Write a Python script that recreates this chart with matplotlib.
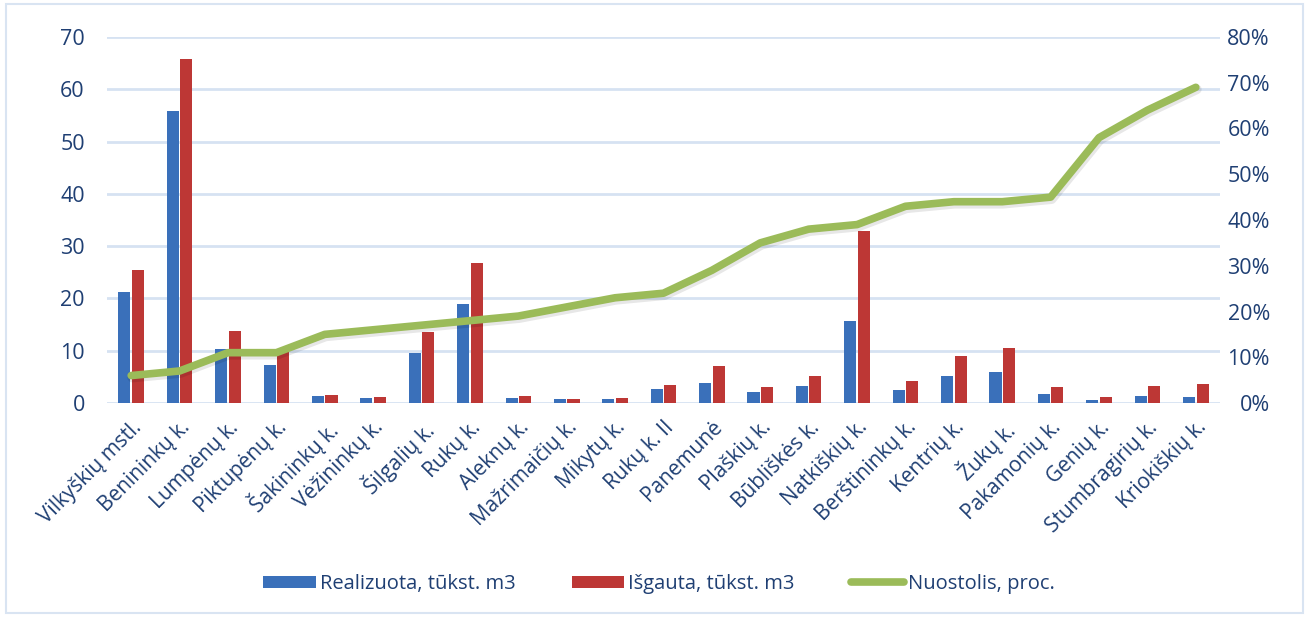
import matplotlib
matplotlib.use("Agg")
import matplotlib.pyplot as plt
import matplotlib.patches as patches
import matplotlib.transforms as mtrans
import numpy as np

places = ['Vilkyškių mstl.', 'Benininkų k.', 'Lumpėnų k.', 'Piktupėnų k.', 'Šakininkų k.',
          'Vėžininkų k.', 'Šilgalių k.', 'Rukų k.', 'Aleknų k.', 'Mažrimaičių k.',
          'Mikytų k.', 'Rukų k. II', 'Panemunė', 'Plaškių k.', 'Būbliškės k.',
          'Natkiškių k.', 'Berštininkų k.', 'Kentrių k.', 'Žukų k.', 'Pakamonių k.',
          'Genių k.', 'Stumbragirių k.', 'Kriokiškių k.']
realizuota = [21.2, 55.8, 10.3, 7.3, 1.3, 0.9, 9.6, 18.9, 1.0, 0.7, 0.7, 2.7, 3.8,
              2.1, 3.2, 15.7, 2.5, 5.2, 5.9, 1.7, 0.6, 1.3, 1.1]
isgauta = [25.4, 65.8, 13.8, 9.8, 1.5, 1.1, 13.6, 26.8, 1.4, 0.7, 0.9, 3.4, 7.1,
           3.0, 5.2, 32.9, 4.2, 9.0, 10.5, 3.0, 1.1, 3.2, 3.6]
nuostolis = [6, 7, 11, 11, 15, 16, 17, 18, 19, 21, 23, 24, 29,
             35, 38, 39, 43, 44, 44, 45, 58, 64, 69]

txt = '#1F3F73'
blue = '#3A70BA'
red = '#BD3735'
green = '#9BBB59'
grid = '#D6E2F2'

plt.rcParams['font.family'] = ['Open Sans', 'DejaVu Sans']

fig = plt.figure(figsize=(13.09, 6.17), dpi=100)
ax = fig.add_axes([107 / 1309, 1 - 403 / 617, (1220 - 107) / 1309, (403 - 37) / 617])
ax2 = ax.twinx()

x = np.arange(len(places))
w = 0.25
b1 = ax.bar(x - 0.14, realizuota, w, color=blue, zorder=3)
b2 = ax.bar(x + 0.14, isgauta, w, color=red, zorder=3)

# soft shadow under the line
shadow = ax2.transData + mtrans.ScaledTranslation(1 / 100, -2 / 100, fig.dpi_scale_trans)
ax2.plot(x, nuostolis, color='#00000018', lw=7, solid_capstyle='round', zorder=2, transform=shadow)
ln, = ax2.plot(x, nuostolis, color=green, lw=5.5, solid_capstyle='round',
               solid_joinstyle='round', zorder=3)

ax.set_xlim(-0.5, len(places) - 0.5)
ax.set_ylim(0, 70)
ax2.set_ylim(0, 80)
ax.set_yticks(range(0, 71, 10))
ax2.set_yticks(range(0, 81, 10))
ax2.set_yticklabels(['{}%'.format(v) for v in range(0, 81, 10)])

ax.yaxis.grid(True, color=grid, lw=2, zorder=0)
ax.set_axisbelow(True)
for a in (ax, ax2):
    for s in a.spines.values():
        s.set_visible(False)
    a.tick_params(length=0, labelsize=15.5, colors=txt)
ax.tick_params(axis='y', pad=16)
ax2.tick_params(axis='y', pad=36)
for t in ax2.get_yticklabels():
    t.set_ha('right')

ax.set_xticks(x)
ax.set_xticklabels(places, rotation=45, ha='right', va='top', rotation_mode='anchor', fontsize=15)
ax.tick_params(axis='x', pad=10)

leg = fig.legend([b1, b2, ln], ['Realizuota, tūkst. m3', 'Išgauta, tūkst. m3', 'Nuostolis, proc.'],
                 loc='center', bbox_to_anchor=(659 / 1309, 1 - 584 / 617), ncol=3, frameon=False,
                 fontsize=14.5, handlelength=2.6, handleheight=0.6, columnspacing=2.8, handletextpad=0.2)
for t in leg.get_texts():
    t.set_color(txt)

fig.patches.append(patches.Rectangle((6 / 1309, 4 / 617), 1 - 12 / 1309, 1 - 8 / 617,
                                     transform=fig.transFigure, fill=False, ec='#D9E4F2', lw=1.5))

fig.savefig('out.png', dpi=100, facecolor='white')
